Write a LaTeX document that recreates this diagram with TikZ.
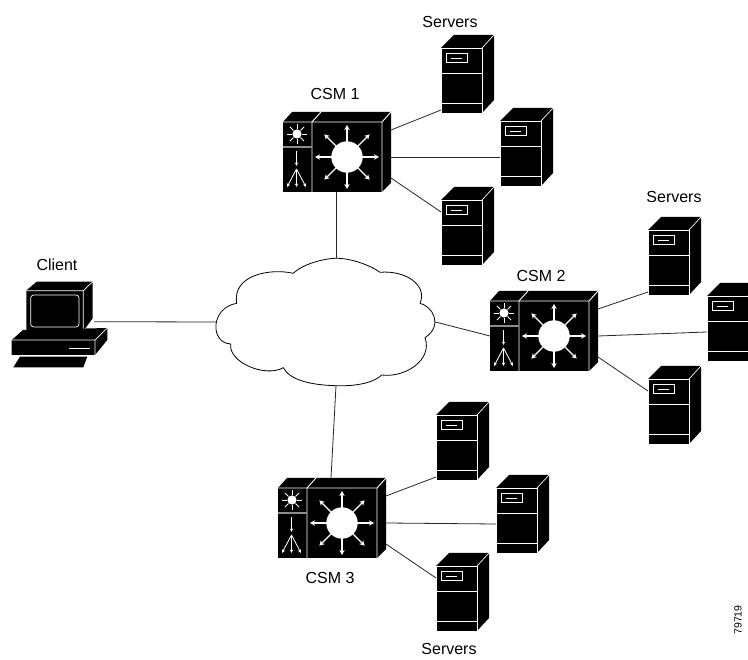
\documentclass[tikz,border=0pt]{standalone}
\usepackage{fontspec}
\setmainfont{Liberation Sans}
\usetikzlibrary{arrows.meta}
\tikzset{
  x=1pt,y=-1pt,
  wline/.style={draw=white,line width=0.9pt},
  link/.style={draw=black!85,line width=0.8pt},
  lbl/.style={font=\fontsize{16}{18}\selectfont,inner sep=0pt},
  warrow/.style={draw=white,fill=white,line width=1.1pt,-{Stealth[length=5pt,width=5.5pt]}},
  warrowb/.style={draw=white,fill=white,line width=0.8pt,-{Stealth[length=3.6pt,width=3.4pt]}},
  server/.pic={
    \fill[black] (0,0)--(13,-13)--(53,-13)--(53,52)--(41,65)--(0,65)--cycle;
    \draw[wline,line width=0.7pt] (0,0)--(41,0)--(41,65)--(0,65)--cycle;
    \draw[wline,line width=0.7pt] (41,0)--(53,-13);
    \draw[wline,line width=0.7pt] (0,25)--(41,25) (0,55)--(41,55);
    \draw[wline,line width=0.7pt] (5,5)rectangle(26,14);
    \draw[wline,line width=0.7pt] (10,10)--(21,10);
    \coordinate (-w) at (0,62);
    \coordinate (-m) at (0,36);
    \coordinate (-u) at (0,12);
  },
  csm/.pic={
    \fill[black] (0,0)--(9,-10)--(108,-10)--(108,61)--(99,70)--(0,70)--cycle;
    \draw[wline] (0,0)--(99,0)--(99,70) (99,0)--(108,-10);
    \draw[wline] (29,0)--(29,70) (29,0)--(38,-10);
    \draw[draw=black!45,line width=1.2pt] (0,25)--(28.5,25);
    \fill[white] (14,12) circle (4.6);
    \foreach \a in {0,45,...,315}{\draw[white,line width=0.9pt] (14,12)++(\a:5)--++(\a:5);}
    \draw[warrowb] (13.5,29)--(13.5,44);
    \foreach \tx in {4,13.5,23}{\draw[warrowb] (13.5,47)--(\tx,65);}
    \fill[white] (64,35) circle (15.7);
    \foreach \a in {0,45,...,315}{
      \ifnum\a=45 \def\r{32}\else\ifnum\a=135 \def\r{32}\else\ifnum\a=225 \def\r{32}\else\ifnum\a=315 \def\r{32}\else\def\r{32}\fi\fi\fi\fi
      \draw[warrow] (64,35)++(\a:14)--++(\a:\r-14);}
    \coordinate (-top) at (53,-10);
    \coordinate (-bot) at (53,70);
    \coordinate (-lft) at (0,35);
    \coordinate (-ru) at (108,8);
    \coordinate (-rm) at (108,35);
    \coordinate (-rd) at (108,56);
  },
}
\begin{document}
\begin{tikzpicture}
\useasboundingbox (0,0) rectangle (748,660);
\begin{scope}
\clip (0,0) rectangle (748,660);
% icons
\pic (csmA) at (283,122) {csm};
\pic (csmB) at (490,301) {csm};
\pic (csmC) at (278,488) {csm};
\pic (sA) at (441,48) {server};
\pic (sB) at (500,121) {server};
\pic (sC) at (441,200) {server};
\pic (sD) at (648,230) {server};
\pic (sE) at (707,296) {server};
\pic (sF) at (648,379) {server};
\pic (sG) at (436,415) {server};
\pic (sH) at (496,488) {server};
\pic (sI) at (436,566) {server};
% client
\fill[black] (26,290.7)--(36.7,281.7)--(92.7,281.7)--(92.7,318.3)--(83.3,331)--(26,331)--cycle;
\draw[wline,line width=0.7pt] (26,290.7)--(83.3,290.7)--(83.3,331)--(26,331)--cycle (83.3,290.7)--(92.7,281.7);
\draw[wline,line width=0.7pt,rounded corners=3pt] (30.7,295) rectangle (79,327);
\fill[black] (11.7,340)--(23,330)--(107.3,328)--(107.3,340)--(95,355)--(11.7,355)--cycle;
\draw[wline,line width=0.7pt] (11.7,340)--(95,340)--(95,355) (95,340)--(107.3,328);
\draw[wline] (69.3,348.3)--(90,348.3);
\fill[black] (13.3,367.3)--(83.3,367.3)--(87.3,356.7)--(20,356.7)--cycle;
\coordinate (clientR) at (94,321.7);
% cloud
\node (cloud) [inner sep=0pt,minimum width=219pt,minimum height=127pt] at (326,322) {};
\draw[black,line width=0.8pt,fill=white]
  (293.3,273.3) .. controls (305,262) and (330,258) .. (336,258.3)
  .. controls (350,258) and (370,265) .. (380,272.3)
  .. controls (405,270) and (428,285) .. (420,303.3)
  .. controls (432,306) and (444,325) .. (425,337.7)
  .. controls (433,360) and (405,378) .. (381.7,375)
  .. controls (370,386) and (345,386) .. (336,385.7)
  .. controls (310,385) and (290,380) .. (283.3,367.7)
  .. controls (265,378) and (228,362) .. (230.7,344)
  .. controls (210,343) and (210,308) .. (236.7,303.3)
  .. controls (232,275) and (270,268) .. (293.3,273.3) -- cycle;
\coordinate (cT) at (336,258.3);
\coordinate (cB) at (336,385.7);
\coordinate (cL) at (216.7,322);
\coordinate (cR) at (435.3,322);
% links
\draw[link] (clientR) -- (cL);
\draw[link] (csmA-bot) -- (cT);
\draw[link] (cB) -- (csmC-top);
\draw[link] (cR) -- (csmB-lft);
\foreach \c/\a/\b/\d in {csmA/sA/sB/sC,csmB/sD/sE/sF,csmC/sG/sH/sI}{
  \draw[link] (\c-ru) -- (\a-w);
  \draw[link] (\c-rm) -- (\b-m);
  \draw[link] (\c-rd) -- (\d-u);
}
% labels
\node[lbl] (tClient) at (57,265) {Client};
\node[lbl] (tA) at (335,94) {CSM 1};
\node[lbl] (tB) at (541,276) {CSM 2};
\node[lbl] (tC) at (330,578) {CSM 3};
\node[lbl] (tS1) at (450,22) {Servers};
\node[lbl] (tS2) at (674,197) {Servers};
\node[lbl] (tS3) at (449,649) {Servers};
\node[inner sep=0pt,rotate=90,font=\fontsize{10.5}{12}\selectfont] (tNum) at (738,620) {79719};
\end{scope}
\end{tikzpicture}
\end{document}
